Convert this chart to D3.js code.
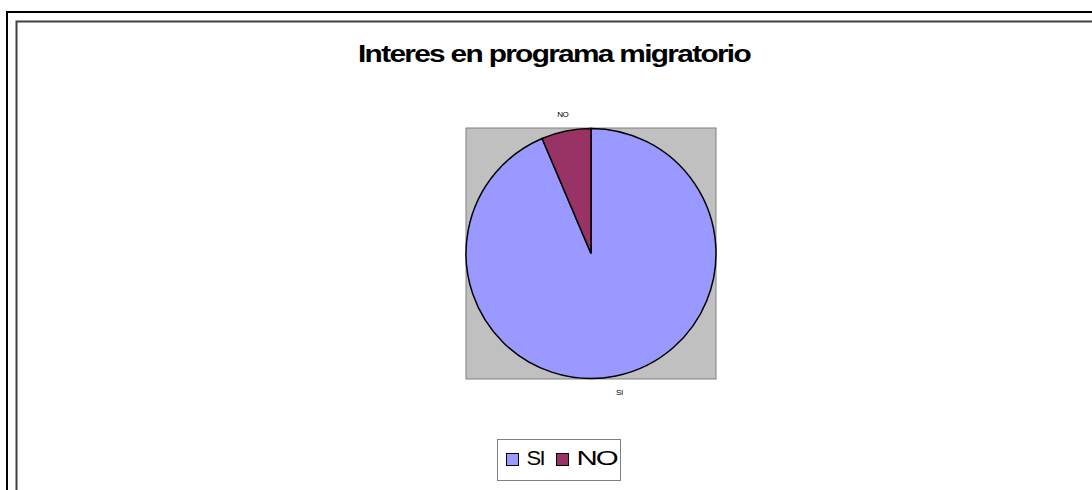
<!DOCTYPE html>
<html lang="es">
<head>
<meta charset="UTF-8">
<title>Interes en programa migratorio</title>
<script src="https://cdnjs.cloudflare.com/ajax/libs/d3/7.8.5/d3.min.js"></script>
<style>
  body { margin: 0; background: #fff; }
  svg { display: block; font-family: "Liberation Sans", Arial, sans-serif; }
</style>
</head>
<body>
<svg width="1092" height="490"></svg>
<script>
const categories = ["SI", "NO"];
const values = [93.6, 6.4];
const colors = ["#9999ff", "#993366"];
const title = "Interes en programa migratorio";

const svg = d3.select("svg");

// frames (run off the right and bottom edges)
svg.append("rect").attr("x", 7).attr("y", 12).attr("width", 1200).attr("height", 600)
    .attr("fill", "none").attr("stroke", "#000").attr("stroke-width", 2);
svg.append("rect").attr("x", 16.5).attr("y", 21.5).attr("width", 1200).attr("height", 600)
    .attr("fill", "none").attr("stroke", "#404040").attr("stroke-width", 2);

svg.append("text")
    .attr("x", 358).attr("y", 62)
    .attr("font-size", 23).attr("font-weight", "bold")
    .attr("letter-spacing", -1.3)
    .attr("textLength", 392).attr("lengthAdjust", "spacingAndGlyphs")
    .text(title);

// plot area
const cx = 591, cy = 253.5, r = 125;
svg.append("rect").attr("x", 466).attr("y", 128).attr("width", 250).attr("height", 251)
    .attr("fill", "#c0c0c0").attr("stroke", "#808080").attr("stroke-width", 1);

const pie = d3.pie().sort(null).value(d => d);
const arcs = pie(values);
const arc = d3.arc().innerRadius(0).outerRadius(r);

const g = svg.append("g").attr("transform", `translate(${cx},${cy})`);
g.selectAll("path")
    .data(arcs)
    .join("path")
    .attr("d", arc)
    .attr("fill", (d, i) => colors[i])
    .attr("stroke", "#000")
    .attr("stroke-width", 1.5);

// slice labels outside
const labelArc = d3.arc().innerRadius(r + 17).outerRadius(r + 17);
g.selectAll("text")
    .data(arcs)
    .join("text")
    .attr("transform", d => `translate(${labelArc.centroid(d)})`)
    .attr("text-anchor", "middle")
    .attr("dy", "0.35em")
    .attr("font-size", 8)
    .attr("letter-spacing", -0.5)
    .text((d, i) => categories[i]);

// legend
const legend = svg.append("g").attr("transform", "translate(497.5,439.5)");
legend.append("rect").attr("width", 123).attr("height", 41)
    .attr("fill", "#fff").attr("stroke", "#808080").attr("stroke-width", 1);
const legendX = [9, 59];
const legendW = [17.6, 40];
categories.forEach((c, i) => {
    legend.append("rect").attr("x", legendX[i]).attr("y", 14).attr("width", 12).attr("height", 12)
        .attr("fill", colors[i]).attr("stroke", "#000").attr("stroke-width", 1);
    legend.append("text").attr("x", legendX[i] + 20).attr("y", 25.5)
        .attr("font-size", 21).attr("letter-spacing", -1.5)
        .attr("textLength", legendW[i]).attr("lengthAdjust", "spacingAndGlyphs")
        .text(c);
});
</script>
</body>
</html>
